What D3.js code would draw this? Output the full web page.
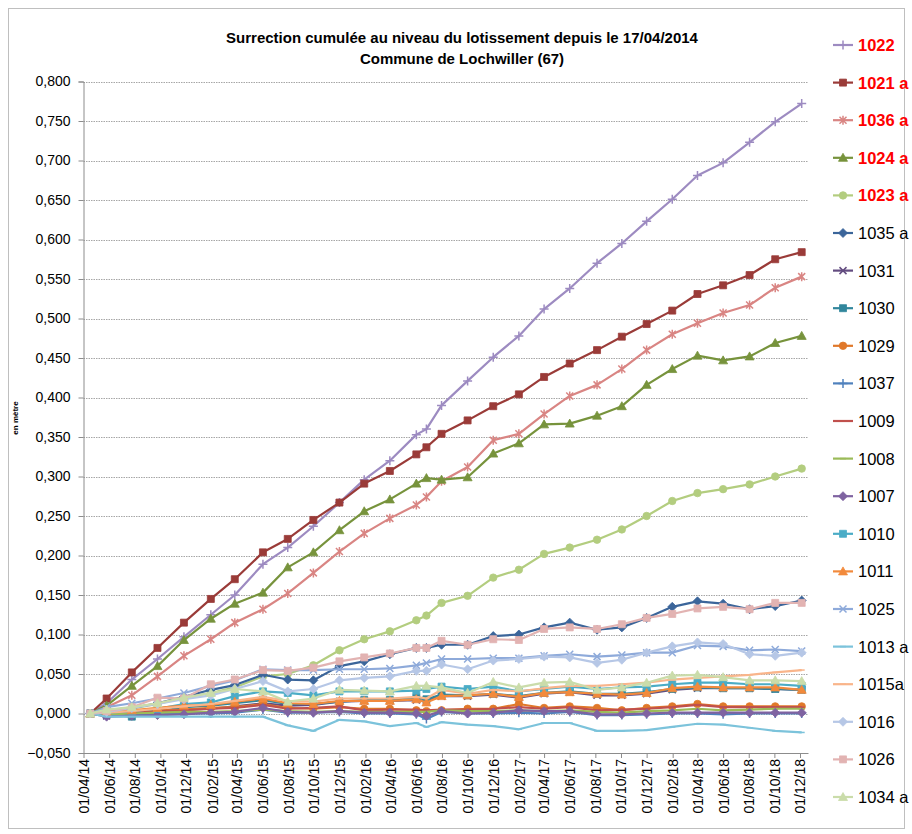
<!DOCTYPE html>
<html>
<head>
<meta charset="utf-8">
<script src="https://cdnjs.cloudflare.com/ajax/libs/d3/7.8.5/d3.min.js"></script>
<style>
  body { margin: 0; background: #fff; }
  svg { display: block; }
  text { font-family: "Liberation Sans", Arial, sans-serif; }
</style>
</head>
<body>
<script>
// Survey dates (one per measurement campaign)
const dates = ["2014-04-17","2014-05-26","2014-07-25","2014-09-24","2014-11-26","2015-01-29","2015-03-27",
  "2015-06-02","2015-07-31","2015-09-30","2015-12-01","2016-01-29","2016-03-30","2016-06-01","2016-06-25",
  "2016-07-31","2016-10-01","2016-12-01","2017-01-31","2017-04-01","2017-06-01","2017-08-05","2017-10-03",
  "2017-12-01","2018-01-31","2018-04-01","2018-06-01","2018-08-03","2018-10-03","2018-12-05"];

// Cumulated uplift per point (metres)
const s1022  = [0,0.013,0.043,0.069,0.097,0.125,0.150,0.189,0.210,0.237,0.267,0.296,0.320,0.353,0.360,0.390,0.421,0.451,0.478,0.512,0.538,0.570,0.595,0.623,0.651,0.681,0.697,0.723,0.749,0.772];
const s1021a = [0,0.019,0.052,0.083,0.115,0.145,0.170,0.204,0.221,0.245,0.267,0.291,0.307,0.328,0.337,0.354,0.371,0.389,0.404,0.426,0.443,0.460,0.477,0.493,0.510,0.531,0.542,0.555,0.575,0.584];
const s1036a = [0,0.008,0.023,0.047,0.073,0.094,0.115,0.132,0.152,0.178,0.205,0.228,0.247,0.264,0.274,0.294,0.312,0.346,0.354,0.379,0.402,0.416,0.436,0.460,0.480,0.494,0.507,0.517,0.539,0.553];
const s1024a = [0,0.010,0.035,0.060,0.093,0.120,0.139,0.153,0.185,0.204,0.232,0.256,0.271,0.291,0.298,0.296,0.299,0.329,0.342,0.366,0.367,0.377,0.389,0.416,0.436,0.453,0.447,0.452,0.469,0.478];
const s1023a = [0,0.003,0.006,0.012,0.020,0.026,0.033,0.047,0.050,0.061,0.080,0.094,0.104,0.118,0.124,0.140,0.149,0.172,0.182,0.202,0.210,0.220,0.233,0.250,0.269,0.279,0.284,0.290,0.300,0.310];
const s1035a = [0,0.002,0.007,0.013,0.021,0.030,0.036,0.049,0.043,0.042,0.060,0.066,0.075,0.083,0.083,0.087,0.087,0.098,0.100,0.109,0.115,0.106,0.109,0.121,0.135,0.142,0.139,0.132,0.136,0.143];
const s1031  = [0,-0.003,-0.001,0.002,0.005,0.006,0.009,0.013,0.010,0.011,0.015,0.016,0.016,0.017,0.016,0.022,0.022,0.024,0.020,0.025,0.027,0.023,0.023,0.025,0.030,0.032,0.032,0.032,0.031,0.030];
const s1030  = [0,-0.001,-0.004,0.002,0.008,0.010,0.013,0.017,0.012,0.012,0.015,0.017,0.017,0.020,0.018,0.024,0.023,0.025,0.022,0.026,0.028,0.025,0.025,0.027,0.031,0.033,0.032,0.032,0.031,0.030];
const s1029  = [0,0.000,0.002,0.004,0.005,0.007,0.008,0.012,0.007,0.006,0.008,0.006,0.006,0.004,0.003,0.004,0.006,0.006,0.012,0.007,0.009,0.007,0.004,0.007,0.009,0.012,0.009,0.009,0.009,0.009];
const s1037  = [0,-0.002,-0.002,-0.001,0.000,0.000,0.001,0.005,0.001,0.001,0.002,0.000,0.000,-0.001,-0.007,0.002,0.000,0.000,0.001,0.000,0.002,-0.002,-0.002,-0.001,0.000,0.000,-0.001,0.000,0.000,0.000];
const s1009  = [0,0.000,0.001,0.003,0.004,0.006,0.007,0.011,0.006,0.007,0.009,0.004,0.005,0.005,0.004,0.005,0.005,0.006,0.008,0.006,0.008,0.004,0.005,0.006,0.008,0.011,0.008,0.008,0.008,0.008];
const s1008  = [0,-0.001,0.000,0.001,0.002,0.002,0.003,0.005,0.003,0.002,0.003,0.002,0.002,0.002,0.002,0.004,0.003,0.003,0.004,0.003,0.004,0.002,0.001,0.003,0.004,0.006,0.004,0.005,0.006,0.006];
const s1007  = [0,-0.004,-0.003,-0.002,-0.001,0.001,0.002,0.007,0.002,0.001,0.003,0.001,0.001,0.000,-0.003,0.003,0.000,0.001,0.004,0.003,0.003,-0.001,-0.001,0.000,0.001,0.001,0.001,0.001,0.001,0.001];
const s1010  = [0,0.001,0.003,0.006,0.012,0.014,0.022,0.028,0.026,0.023,0.028,0.028,0.028,0.029,0.031,0.034,0.031,0.034,0.028,0.031,0.034,0.031,0.033,0.034,0.037,0.039,0.039,0.037,0.037,0.035];
const s1011  = [0,0.002,0.004,0.007,0.010,0.011,0.015,0.019,0.013,0.012,0.016,0.016,0.016,0.018,0.014,0.022,0.023,0.025,0.021,0.026,0.027,0.025,0.024,0.026,0.032,0.034,0.033,0.033,0.033,0.030];
const s1025  = [0,0.008,0.013,0.019,0.026,0.035,0.042,0.056,0.055,0.055,0.056,0.056,0.057,0.061,0.064,0.069,0.069,0.070,0.070,0.073,0.075,0.072,0.074,0.077,0.077,0.086,0.085,0.080,0.081,0.079];
const s1013a = [0,-0.004,-0.004,-0.004,-0.004,-0.004,-0.004,-0.004,-0.015,-0.022,-0.008,-0.010,-0.016,-0.012,-0.017,-0.011,-0.014,-0.016,-0.020,-0.012,-0.012,-0.022,-0.022,-0.021,-0.017,-0.013,-0.014,-0.018,-0.022,-0.024];
const s1015a = [0,0.001,0.003,0.006,0.009,0.012,0.016,0.021,0.016,0.015,0.019,0.019,0.019,0.021,0.019,0.030,0.025,0.030,0.028,0.032,0.035,0.035,0.037,0.039,0.043,0.045,0.047,0.049,0.052,0.055];
const s1016  = [0,0.002,0.007,0.012,0.018,0.023,0.031,0.041,0.028,0.031,0.042,0.045,0.047,0.054,0.054,0.062,0.056,0.067,0.069,0.072,0.071,0.064,0.068,0.077,0.085,0.090,0.088,0.075,0.073,0.077];
const s1026  = [0,0.003,0.008,0.020,0.019,0.037,0.043,0.055,0.054,0.058,0.066,0.071,0.076,0.083,0.083,0.092,0.087,0.094,0.093,0.107,0.109,0.107,0.113,0.121,0.126,0.133,0.135,0.132,0.140,0.140];
const s1034a = [0,0.005,0.008,0.013,0.020,0.026,0.031,0.028,0.015,0.019,0.030,0.029,0.028,0.035,0.035,0.033,0.026,0.040,0.033,0.039,0.040,0.030,0.033,0.039,0.048,0.049,0.046,0.042,0.042,0.041];

const seriesNames = ["1022","1021 a","1036 a","1024 a","1023 a","1035 a","1031","1030","1029","1037",
  "1009","1008","1007","1010","1011","1025","1013 a","1015a","1016","1026","1034 a"];
const seriesValues = [s1022,s1021a,s1036a,s1024a,s1023a,s1035a,s1031,s1030,s1029,s1037,
  s1009,s1008,s1007,s1010,s1011,s1025,s1013a,s1015a,s1016,s1026,s1034a];
const highlighted = ["1022","1021 a","1036 a","1024 a","1023 a"];

// styles, same order as the series
const colors = ["#9d8bc1","#9a3b38","#d98583","#77933c","#b3cd7f","#3b659a","#634c80","#31869c","#e0782a","#4f81bd",
  "#c0504d","#9bbb59","#7f63a1","#4bacc6","#f28a3c","#8eaada","#7cc3db","#f9b58b","#b6c7e6","#e2b3b2","#cadcaa"];
const markers = ["plus","square","star","triangle","circle","diamond","x","square","circle","plus",
  "dash","dash","diamond","square","triangle","x","dash","dash","diamond","square","triangle"];

const yTicks = d3.range(-0.05, 0.8001, 0.05);
const parse = d3.timeParse("%Y-%m-%d");
const tickDates = d3.range(29).map(i => d3.timeMonth.offset(new Date(2014, 3, 1), 2 * i));

const width = 912, height = 834;
const svg = d3.select("body").append("svg")
    .attr("width", width)
    .attr("height", height);

// chart border
svg.append("rect")
    .attr("x", 8.5).attr("y", 8.5)
    .attr("width", 896).attr("height", 820)
    .attr("fill", "none").attr("stroke", "#bfbfbf");

const x = d3.scaleTime()
    .domain([new Date(2014, 3, 1), new Date(2018, 11, 20)])
    .range([83.5, 808]);
const y = d3.scaleLinear()
    .domain([-0.05, 0.8])
    .range([753, 81.5]);

// gridlines
svg.append("g")
    .selectAll("line")
    .data(yTicks.slice(1))
    .join("line")
    .attr("x1", x.range()[0]).attr("x2", x.range()[1])
    .attr("y1", d => Math.round(y(d)) + 0.5).attr("y2", d => Math.round(y(d)) + 0.5)
    .attr("stroke", "#a6a6a6")
    .attr("stroke-dasharray", "1.5,1");

// y axis
const fmtY = v => d3.format(".3f")(Math.abs(v) < 1e-9 ? 0 : v).replace(".", ",");
const yAxis = svg.append("g")
    .attr("transform", `translate(${x.range()[0]},0)`)
    .call(d3.axisLeft(y).tickValues(yTicks).tickFormat(fmtY).tickSize(5).tickPadding(8));
yAxis.select(".domain").attr("stroke", "#8c8c8c");
yAxis.selectAll(".tick line").attr("stroke", "#8c8c8c");
yAxis.selectAll("text").style("font-size", "14px").attr("fill", "#000")
    .style("font-family", "'Liberation Sans', Arial, sans-serif");

// x axis
const xAxis = svg.append("g")
    .attr("transform", `translate(0,${y(-0.05)})`)
    .call(d3.axisBottom(x).tickValues(tickDates).tickFormat(d3.timeFormat("%d/%m/%y")).tickSize(5).tickSizeOuter(0));
xAxis.select(".domain").attr("stroke", "#8c8c8c");
xAxis.selectAll(".tick line").attr("stroke", "#8c8c8c");
xAxis.selectAll("text")
    .style("font-size", "14px")
    .style("font-family", "'Liberation Sans', Arial, sans-serif")
    .attr("fill", "#000")
    .attr("transform", "rotate(-90)")
    .attr("text-anchor", "end")
    .attr("x", -6).attr("y", 0).attr("dy", "0.35em");

// marker shapes
function markerPath(type) {
    switch (type) {
        case "square": return "M-3.5,-3.5H3.5V3.5H-3.5Z";
        case "diamond": return "M0,-4.5L4.5,0L0,4.5L-4.5,0Z";
        case "triangle": return "M0,-4.5L4.5,3.5H-4.5Z";
        case "circle": return d3.symbol(d3.symbolCircle, 44)();
        case "plus": return "M-4.5,0H4.5M0,-4.5V4.5";
        case "x": return "M-3.5,-3.5L3.5,3.5M-3.5,3.5L3.5,-3.5";
        case "star": return "M-3.5,-3.5L3.5,3.5M-3.5,3.5L3.5,-3.5M0,-4.5V4.5";
        case "dash": return "M-3,0H3";
    }
}
const filled = t => ["square", "diamond", "triangle", "circle"].includes(t);

const line = d3.line().x(d => x(d.date)).y(d => y(d.value));

seriesNames.forEach((name, i) => {
    const pts = dates.map((d, j) => ({ date: parse(d), value: seriesValues[i][j] }));
    const g = svg.append("g");
    g.append("path")
        .datum(pts)
        .attr("d", line)
        .attr("fill", "none")
        .attr("stroke", colors[i])
        .attr("stroke-width", 2.2)
        .attr("stroke-linejoin", "round");
    g.selectAll("path.mk")
        .data(pts)
        .join("path")
        .attr("class", "mk")
        .attr("transform", d => `translate(${x(d.date)},${y(d.value)})`)
        .attr("d", markerPath(markers[i]))
        .attr("fill", filled(markers[i]) ? colors[i] : "none")
        .attr("stroke", colors[i])
        .attr("stroke-width", filled(markers[i]) ? 0.8 : 1.5);
});

// legend
const legend = svg.append("g");
seriesNames.forEach((name, i) => {
    const ly = 45 + i * 37.6;
    const hi = highlighted.includes(name);
    legend.append("line")
        .attr("x1", 833).attr("x2", 853).attr("y1", ly).attr("y2", ly)
        .attr("stroke", colors[i]).attr("stroke-width", 2.2);
    legend.append("path")
        .attr("transform", `translate(843,${ly})`)
        .attr("d", markerPath(markers[i]))
        .attr("fill", filled(markers[i]) ? colors[i] : "none")
        .attr("stroke", colors[i])
        .attr("stroke-width", filled(markers[i]) ? 0.8 : 1.5);
    legend.append("text")
        .attr("x", 858).attr("y", ly).attr("dy", "0.36em")
        .style("font-size", "16.5px")
        .style("font-weight", hi ? "bold" : "normal")
        .attr("fill", hi ? "#ff0000" : "#000")
        .text(name);
});

// titles
svg.append("text")
    .attr("x", 462).attr("y", 43)
    .attr("text-anchor", "middle")
    .style("font-size", "15px").style("font-weight", "bold")
    .text("Surrection cumulée au niveau du lotissement  depuis le 17/04/2014");
svg.append("text")
    .attr("x", 462).attr("y", 64)
    .attr("text-anchor", "middle")
    .style("font-size", "15px").style("font-weight", "bold")
    .text("Commune de Lochwiller (67)");
svg.append("text")
    .attr("transform", "translate(18,418) rotate(-90)")
    .attr("text-anchor", "middle")
    .style("font-size", "8px").style("font-weight", "bold")
    .text("en mètre");
</script>
</body>
</html>
